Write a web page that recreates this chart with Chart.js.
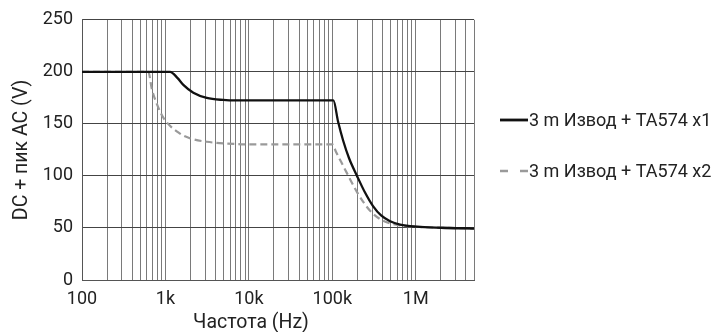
<!DOCTYPE html>
<html>
<head>
<meta charset="utf-8">
<script src="https://cdn.jsdelivr.net/npm/chart.js@4/dist/chart.umd.min.js"></script>
<style>
  html, body { margin: 0; padding: 0; background: #fff; }
  #wrap { width: 728px; height: 332px; }
</style>
</head>
<body>
<div id="wrap"><canvas id="chart"></canvas></div>
<script>
// values
const freqX1 = [100, 1135, 1400, 1640, 2160, 3130, 4900, 7000, 10000, 100000, 103000, 117500, 134900, 159000, 198000, 247000, 308000, 385000, 493000, 650000, 1010000, 2020000, 5000000];
const voltX1 = [200, 200, 194, 187.5, 180, 175, 173, 172.5, 172.5, 172.5, 172.5, 152, 134, 117, 100, 84, 71, 62, 56.5, 53.3, 51.3, 50.2, 49.5];

const freqX2 = [100, 624, 685, 800, 944, 1496, 2000, 3130, 7160, 10000, 100000, 111000, 127600, 156000, 193000, 240000, 300000, 385000, 493000, 650000, 1010000, 2020000, 5000000];
const voltX2 = [200, 200, 184, 168, 156, 140.6, 136, 132.8, 130.6, 130.3, 130.3, 123, 113.5, 100, 86, 74, 64.5, 58, 54.5, 52.5, 51.2, 50.2, 49.5];

const seriesNames = ["3 m Извод + TA574 x1", "3 m Извод + TA574 x2"];

// x axis: labelled decades and the minor grid multipliers
const decadeValues = [100, 1000, 10000, 100000, 1000000];
const decadeLabels = ["100", "1k", "10k", "100k", "1M"];
const minorSteps = [1, 2, 3, 4, 5, 6, 7, 8, 9];
const xMin = 100, xMax = 5000000;

const yTicks = [0, 50, 100, 150, 200, 250];

const xTitle = "Частота (Hz)";
const yTitle = "DC + пик AC (V)";

const FONT = "Roboto";

function toPoints(xs, ys) {
  return xs.map((x, i) => ({ x: x, y: ys[i] }));
}

// legend and x title drawn by hand
const sideLegend = {
  id: "sideLegend",
  afterDraw(chart) {
    const ctx = chart.ctx;
    const rows = [120, 171];
    chart.data.datasets.forEach((ds, i) => {
      const y = rows[i];
      ctx.save();
      ctx.strokeStyle = ds.borderColor;
      ctx.lineWidth = i === 0 ? 2.8 : 2.4;
      ctx.setLineDash(i === 0 ? [] : [8, 12]);
      ctx.beginPath();
      ctx.moveTo(500, y);
      ctx.lineTo(528, y);
      ctx.stroke();
      ctx.setLineDash([]);
      ctx.fillStyle = "#222";
      ctx.font = "18px " + FONT;
      ctx.textBaseline = "middle";
      ctx.textAlign = "left";
      ctx.fillText(ds.label, 529, y + 1);
      ctx.restore();
    });
    ctx.save();
    ctx.fillStyle = "#222";
    ctx.font = "19.5px " + FONT;
    ctx.textAlign = "center";
    ctx.textBaseline = "middle";
    ctx.fillText(xTitle, 251, 323);
    ctx.restore();
  }
};

const chart = new Chart(document.getElementById("chart"), {
  type: "line",
  data: {
    datasets: [
      {
        label: seriesNames[0],
        data: toPoints(freqX1, voltX1),
        borderColor: "#111",
        borderWidth: 2.3,
        pointRadius: 0,
        cubicInterpolationMode: "monotone"
      },
      {
        label: seriesNames[1],
        data: toPoints(freqX2, voltX2),
        borderColor: "#9a9a9a",
        borderWidth: 2.2,
        borderDash: [7, 4],
        pointRadius: 0,
        cubicInterpolationMode: "monotone"
      }
    ]
  },
  options: {
    responsive: true,
    maintainAspectRatio: false,
    animation: false,
    layout: { padding: { top: 13, right: 254, left: 0, bottom: 0 } },
    plugins: {
      legend: { display: false },
      tooltip: { enabled: false }
    },
    scales: {
      x: {
        type: "logarithmic",
        min: xMin,
        max: xMax,
        afterBuildTicks(scale) {
          const ticks = [];
          decadeValues.forEach(d => {
            minorSteps.forEach(m => {
              const v = d * m;
              if (v <= xMax) ticks.push({ value: v });
            });
          });
          scale.ticks = ticks;
        },
        afterFit(scale) { scale.height = 52; },
        ticks: {
          autoSkip: false,
          maxRotation: 0,
          padding: 9,
          color: "#222",
          font: { family: FONT, size: 18 },
          callback(value) {
            const idx = decadeValues.indexOf(value);
            return idx >= 0 ? decadeLabels[idx] : "";
          }
        },
        grid: { color: "#7a7a7a", lineWidth: 1, drawTicks: false },
        border: { color: "#555", width: 1 }
      },
      y: {
        min: 0,
        max: 250,
        afterBuildTicks(scale) {
          scale.ticks = yTicks.map(v => ({ value: v }));
        },
        afterFit(scale) { scale.width = 82; },
        ticks: {
          padding: 9,
          color: "#222",
          font: { family: FONT, size: 18 }
        },
        grid: { color: "#444", lineWidth: 1, drawTicks: false },
        border: { color: "#555", width: 1 },
        title: {
          display: true,
          text: yTitle,
          color: "#222",
          font: { family: FONT, size: 19.5, lineHeight: 1.2 },
          padding: { top: 10, bottom: 0 }
        }
      }
    }
  },
  plugins: [sideLegend]
});
</script>
</body>
</html>
